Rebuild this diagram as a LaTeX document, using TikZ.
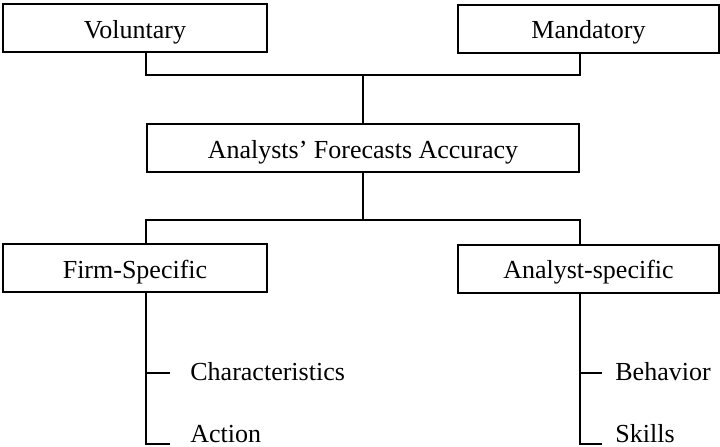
\documentclass[tikz,border=0pt]{standalone}
\usepackage{fontspec}
\setmainfont{Liberation Serif}
\usetikzlibrary{calc}

\tikzset{
  box/.style={draw, line width=1pt, minimum height=24pt, inner sep=0pt,
    text height=10pt, text depth=0pt, font=\fontsize{13}{15}\selectfont},
  item/.style={anchor=base west, inner sep=0pt, font=\fontsize{13}{15}\selectfont},
  link/.style={line width=1pt}
}

\begin{document}
\begin{tikzpicture}[x=0.5pt,y=-0.5pt]
  \useasboundingbox (0,0) rectangle (720,446);

  % Top level: disclosure types
  \node[box, minimum width=132pt] (vol) at (135,28) {Voluntary};
  \node[box, minimum width=130.5pt] (man) at (588.5,28.5) {Mandatory};

  % Centre box
  \node[box, minimum width=216pt] (acc) at (363,148) {Analysts’ Forecasts Accuracy};

  % Determinants
  \node[box, minimum width=132pt] (firm) at (135,268) {Firm-Specific};
  \node[box, minimum width=130.5pt] (ana) at (588.5,268.5) {Analyst-specific};

  % Sub-items
  \node[item] (char) at (190,380) {Characteristics};
  \node[item] (act)  at (190,442) {Action};
  \node[item] (beh)  at (615,380) {Behavior};
  \node[item] (skl)  at (615,442) {Skills};

  % Connectors top
  \coordinate (top) at (363,75);
  \draw[link] (vol.south -| acc.west) -- (top -| acc.west) -- (top -| acc.east) -- (man.south -| acc.east);
  \draw[link] (top) -- (acc.north);

  % Connectors bottom
  \coordinate (bot) at (363,220);
  \draw[link] (acc.south) -- (bot);
  \draw[link] (firm.north -| acc.west) -- (bot -| acc.west) -- (bot -| acc.east) -- (ana.north -| acc.east);

  % Branches to sub-items
  \draw[link] (firm.south -| acc.west) -- (acc.west |- 0,444) -- (170,444);
  \draw[link] (acc.west |- 0,373) -- (170,373);
  \draw[link] (ana.south -| acc.east) -- (acc.east |- 0,444) -- (602,444);
  \draw[link] (acc.east |- 0,373) -- (602,373);
\end{tikzpicture}
\end{document}
